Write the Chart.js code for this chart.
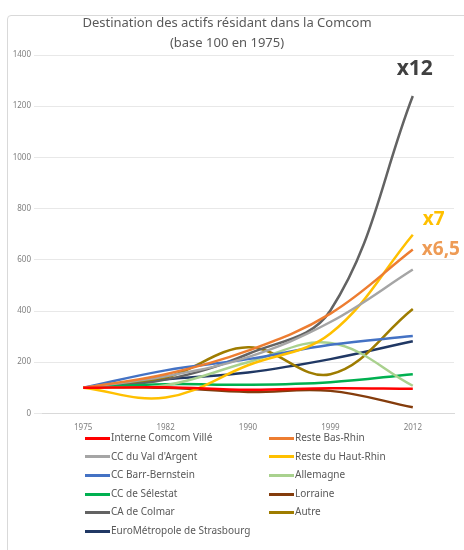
<!DOCTYPE html>
<html>
<head>
<meta charset="utf-8">
<script src="https://cdn.jsdelivr.net/npm/chart.js@4.4.1/dist/chart.umd.min.js"></script>
<style>
  html, body { margin: 0; padding: 0; background: #fff; }
  body { width: 464px; height: 550px; position: relative; overflow: hidden; font-family: "Noto Sans", sans-serif; }
  #frame { position: absolute; left: 7px; top: 15px; width: 470px; height: 560px; border: 1px solid #d9d9d9; border-radius: 4px; }
  #wrap { position: absolute; left: 0; top: 0; width: 464px; height: 441px; }
  #legend { position: absolute; left: 0; top: 428px; width: 464px; font-size: 10px; color: #595959; }
  .item { position: absolute; height: 18px; line-height: 18px; white-space: nowrap; }
  .item span.sw { display: inline-block; width: 25px; height: 3px; vertical-align: middle; margin-right: 1px; }
</style>
</head>
<body>
<div id="frame"></div>
<div id="wrap"><canvas id="chart"></canvas></div>
<div id="legend"></div>
<script>
const years = ['1975', '1982', '1990', '1999', '2012'];

const seriesNames = [
  'Interne Comcom Villé', 'Reste Bas-Rhin',
  'CC du Val d\'Argent', 'Reste du Haut-Rhin',
  'CC Barr-Bernstein', 'Allemagne',
  'CC de Sélestat', 'Lorraine',
  'CA de Colmar', 'Autre',
  'EuroMétropole de Strasbourg'
];

const interne    = [100, 102, 92, 98, 96];
const basRhin    = [100, 153, 245, 390, 640];
const valArgent  = [100, 145, 220, 357, 562];
const hautRhin   = [100, 62, 188, 312, 698];
const barr       = [100, 168, 212, 268, 302];
const allemagne  = [100, 110, 200, 275, 108];
const selestat   = [100, 114, 112, 122, 153];
const lorraine   = [100, 100, 84, 88, 24];
const colmar     = [100, 132, 232, 402, 1240];
const autre      = [100, 140, 258, 153, 408];
const strasbourg = [100, 133, 160, 212, 282];

const seriesValues = [interne, basRhin, valArgent, hautRhin, barr, allemagne,
  selestat, lorraine, colmar, autre, strasbourg];
const colors = ['#ff0000', '#ed7d31', '#a5a5a5', '#ffc000', '#4472c4', '#a9d18e',
  '#00b050', '#843c0c', '#636363', '#9e7c00', '#203864'];

// labels next to the last points
const endNotes = [
  { series: 8, text: 'x12', color: '#404040', dx: 2, dy: -27, size: 21, align: 'center' },
  { series: 3, text: 'x7', color: '#ffc000', dx: 10, dy: -15, size: 19, align: 'left' },
  { series: 1, text: 'x6,5', color: '#ee9b55', dx: 9, dy: 0, size: 19, align: 'left' }
];

const notesPlugin = {
  id: 'notes',
  afterDatasetsDraw(chart) {
    const ctx = chart.ctx;
    const x = chart.scales.x, y = chart.scales.y;
    ctx.save();
    ctx.textBaseline = 'middle';
    endNotes.forEach(n => {
      const vals = seriesValues[n.series];
      const px = x.getPixelForValue(vals.length - 1);
      const py = y.getPixelForValue(vals[vals.length - 1]);
      ctx.font = 'bold ' + n.size + 'px "Noto Sans", sans-serif';
      ctx.fillStyle = n.color;
      ctx.textAlign = n.align;
      ctx.fillText(n.text, px + n.dx, py + n.dy);
    });
    ctx.restore();
  }
};

const ctx = document.getElementById('chart').getContext('2d');
new Chart(ctx, {
  type: 'line',
  data: {
    labels: years,
    datasets: seriesNames.map((name, i) => ({
      label: name,
      data: seriesValues[i],
      borderColor: colors[i],
      backgroundColor: colors[i],
      borderWidth: 2.5,
      pointRadius: 0,
      tension: 0.38
    }))
  },
  options: {
    responsive: true,
    maintainAspectRatio: false,
    animation: false,
    layout: { padding: { left: 0, right: 10, top: 0, bottom: 6 } },
    plugins: {
      legend: { display: false },
      tooltip: { enabled: false },
      title: {
        display: true,
        text: ['Destination des actifs résidant dans la Comcom', '(base 100 en 1975)'],
        color: '#595959',
        font: { family: '"Noto Sans", sans-serif', size: 13, weight: 'normal', lineHeight: 1.5 },
        padding: { top: 14, bottom: 2 }
      }
    },
    scales: {
      x: {
        offset: true,
        grid: { display: false },
        border: { color: '#d9d9d9' },
        ticks: { color: '#7f7f7f', font: { family: '"Noto Sans", sans-serif', size: 8 }, padding: 2 }
      },
      y: {
        min: 0,
        max: 1400,
        afterFit(scale) { scale.width = 42; },
        grid: { color: '#e8e8e8' },
        border: { display: false },
        ticks: {
          stepSize: 200, color: '#7f7f7f', padding: 3,
          font: { family: '"Noto Sans", sans-serif', size: 8 },
          callback: v => String(v)
        }
      }
    }
  },
  plugins: [notesPlugin]
});

// two-column legend below the chart
const legend = document.getElementById('legend');
seriesNames.forEach((name, i) => {
  const el = document.createElement('div');
  el.className = 'item';
  el.style.left = (i % 2 === 0 ? 85 : 269) + 'px';
  el.style.top = (Math.floor(i / 2) * 18.6) + 'px';
  el.innerHTML = '<span class="sw" style="background:' + colors[i] + '"></span>' + name;
  legend.appendChild(el);
});
</script>
</body>
</html>
